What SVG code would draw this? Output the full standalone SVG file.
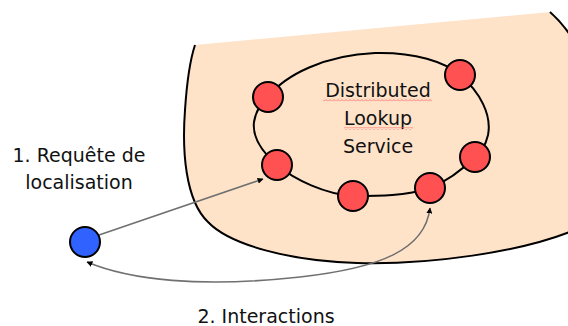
<svg xmlns="http://www.w3.org/2000/svg" width="568" height="326" viewBox="0 0 568 326">
  <style>
    .label { font-family: "DejaVu Sans", Verdana, sans-serif; font-size: 19px; fill: #111; }
    .peer { fill: #ff5151; stroke: #000; stroke-width: 2; }
    .client { fill: #2f62ff; stroke: #000; stroke-width: 2; }
    .link { fill: none; stroke: #707070; stroke-width: 1.6; }
  </style>
  <defs>
    <marker id="arrow" viewBox="0 0 10 10" refX="9" refY="5" markerWidth="6" markerHeight="6" orient="auto-start-reverse" markerUnits="userSpaceOnUse">
      <path d="M0,0 L10,5 L0,10 Z" fill="#000"/>
    </marker>
    <pattern id="squiggle" width="4" height="3" patternUnits="userSpaceOnUse">
      <path d="M0,2.5 L2,0.5 L4,2.5" fill="none" stroke="#ff6a6a" stroke-width="0.9"/>
    </pattern>
  </defs>

  <rect width="568" height="326" fill="#fff"/>

  <!-- lookup service area -->
  <g id="service-area">
    <path d="M195,45 L550,12 L575,36 L575,230 C520,252 430,265 357,263 C290,261 230,245 208,222 C185,200 182,150 185,110 C187,80 190,60 195,45 Z" fill="#fee3c9"/>
    <path d="M550,12 C558,19 565,27 572,38" fill="none" stroke="#000" stroke-width="2"/>
    <path d="M572,231 C520,252 430,265 357,263 C290,261 230,245 208,222 C185,200 182,150 185,110 C187,80 190,60 195,45" fill="none" stroke="#000" stroke-width="2"/>
  </g>

  <!-- peer ring -->
  <g id="ring">
    <path d="M268,97 C285,75 325,55 375,53 C415,52 445,62 460,75 C480,92 492,115 488,135 C485,148 480,152 475,157 C460,172 445,182 430,188 C405,196 380,196 353,196 C325,194 295,180 277,165 C262,152 252,138 254,122 C256,110 262,102 268,97 Z" fill="none" stroke="#000" stroke-width="2"/>
  </g>

  <g id="service-label">
    <text class="label" text-anchor="middle" x="378" y="97">Distributed</text>
    <text class="label" text-anchor="middle" x="378" y="125">Lookup</text>
    <text class="label" text-anchor="middle" x="378" y="153">Service</text>
    <rect x="323" y="98.5" width="109" height="3" fill="url(#squiggle)"/>
    <rect x="344" y="127" width="69" height="3" fill="url(#squiggle)"/>
  </g>

  <!-- connectors -->
  <g id="connectors">
    <path class="link" d="M99,235 L263,179" marker-end="url(#arrow)"/>
    <path class="link" d="M430,208 C425,250 380,268 300,277 C200,288 130,280 87,262" marker-start="url(#arrow)" marker-end="url(#arrow)"/>
  </g>

  <g id="peer-1"><circle class="peer" cx="268" cy="97" r="15"/></g>
  <g id="peer-2"><circle class="peer" cx="460" cy="75" r="15"/></g>
  <g id="peer-3"><circle class="peer" cx="277" cy="165" r="15"/></g>
  <g id="peer-4"><circle class="peer" cx="353" cy="196" r="15"/></g>
  <g id="peer-5"><circle class="peer" cx="430" cy="188" r="15"/></g>
  <g id="peer-6"><circle class="peer" cx="475" cy="157" r="15"/></g>

  <g id="client"><circle class="client" cx="85" cy="242" r="15"/></g>

  <g id="request-label">
    <text class="label" text-anchor="middle" x="79" y="162">1. Requête de</text>
    <text class="label" text-anchor="middle" x="79" y="189">localisation</text>
  </g>

  <g id="interactions-label">
    <text class="label" text-anchor="middle" x="266" y="323">2. Interactions</text>
  </g>
</svg>
